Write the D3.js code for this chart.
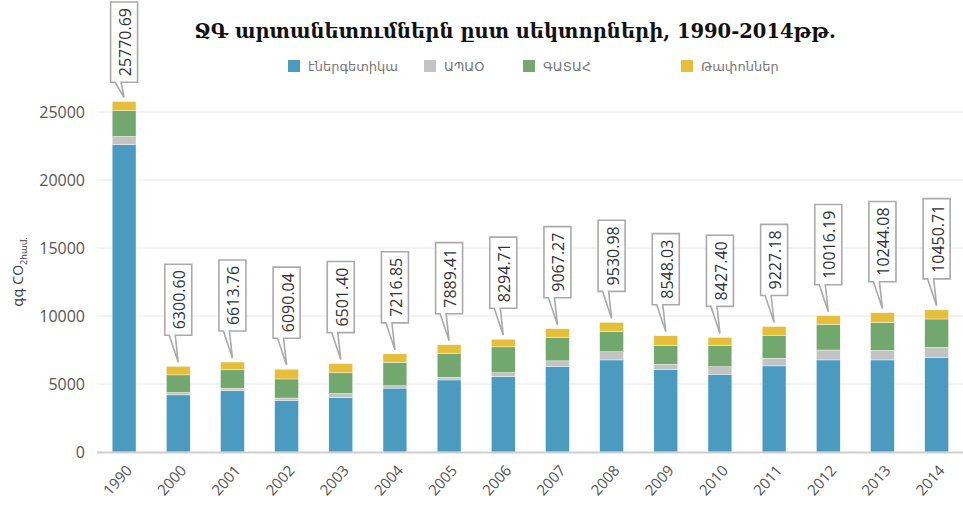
<!DOCTYPE html>
<html>
<head>
<meta charset="utf-8">
<script src="https://cdn.jsdelivr.net/npm/d3@7"></script>
<style>
  body { margin: 0; background: #fff; }
  svg { display: block; }
</style>
</head>
<body>
<div id="chart"></div>
<script>
// data
const years = ["1990", "2000", "2001", "2002", "2003", "2004", "2005", "2006",
  "2007", "2008", "2009", "2010", "2011", "2012", "2013", "2014"]
const totals = [25770.69, 6300.60, 6613.76, 6090.04, 6501.40, 7216.85, 7889.41, 8294.71,
  9067.27, 9530.98, 8548.03, 8427.40, 9227.18, 10016.19, 10244.08, 10450.71]
const energy = [22600, 4200, 4520, 3800, 4000, 4700, 5300, 5550, 6300, 6770, 6050, 5720, 6330, 6770, 6770, 6950]
const ippu = [600, 170, 170, 170, 300, 170, 200, 280, 400, 600, 400, 550, 560, 730, 700, 750]
const afolu = [1900, 1300, 1350, 1400, 1520, 1720, 1720, 1900, 1700, 1480, 1380, 1550, 1700, 1880, 2050, 2080]
const seriesNames = ["էներգետիկա", "ԱՊԱՕ", "ԳԱՏԱՀ", "Թափոններ"]
const yTicks = [0, 5000, 10000, 15000, 20000, 25000]
const titleText = "ՋԳ արտանետումներն ըստ սեկտորների, 1990-2014թթ."

// waste is whatever is left of the total
const waste = totals.map((t, i) => t - energy[i] - ippu[i] - afolu[i])

const colors = ["#4b9bc0", "#c3c3c3", "#72a76d", "#e6bf3a"]

const svgWidth = 963
const svgHeight = 511
const margin = { left: 97, right: 0, top: 112, bottom: 59 }
const plotBottom = svgHeight - margin.bottom

const svg = d3.select("#chart")
  .append("svg")
  .attr("width", svgWidth)
  .attr("height", svgHeight)

const rows = years.map((y, i) => ({
  year: y, total: totals[i],
  s0: energy[i], s1: ippu[i], s2: afolu[i], s3: waste[i]
}))
const stacked = d3.stack().keys(["s0", "s1", "s2", "s3"])(rows)

// scales
const x = d3.scaleBand()
  .domain(years)
  .range([margin.left, margin.left + 866.7])
  .paddingInner(0.56)
  .paddingOuter(0.28)

const y = d3.scaleLinear()
  .domain([0, 25000])
  .range([plotBottom, margin.top])

// gridlines
svg.append("g")
  .selectAll("line")
  .data(yTicks.filter(d => d > 0))
  .join("line")
  .attr("x1", margin.left)
  .attr("x2", svgWidth)
  .attr("y1", d => y(d))
  .attr("y2", d => y(d))
  .attr("stroke", "#e8e8e8")
  .attr("stroke-width", 1)

// y axis labels
const yAxis = svg.append("g")
  .attr("transform", `translate(${margin.left - 12},0)`)
  .call(d3.axisLeft(y).tickValues(yTicks).tickFormat(d3.format("d")).tickSize(0).tickPadding(0))
yAxis.select(".domain").remove()
yAxis.selectAll("text")
  .attr("fill", "#555")
  .style("font-family", "'Open Sans', sans-serif")
  .style("font-size", "16px")

// bars
svg.append("g")
  .selectAll("g")
  .data(stacked)
  .join("g")
  .attr("fill", (d, i) => colors[i])
  .selectAll("rect")
  .data(d => d)
  .join("rect")
  .attr("x", d => x(d.data.year))
  .attr("width", x.bandwidth())
  .attr("y", d => y(d[1]))
  .attr("height", d => y(d[0]) - y(d[1]))
  .attr("stroke", "#fff")
  .attr("stroke-width", 0.4)

// baseline
svg.append("line")
  .attr("x1", margin.left)
  .attr("x2", svgWidth)
  .attr("y1", plotBottom + 0.5)
  .attr("y2", plotBottom + 0.5)
  .attr("stroke", "#cfcfcf")
  .attr("stroke-width", 2)

// x axis labels
svg.append("g")
  .selectAll("text")
  .data(years)
  .join("text")
  .attr("transform", d => `translate(${x(d) + x.bandwidth() / 2 + 9},${plotBottom + 19}) rotate(-48)`)
  .attr("text-anchor", "end")
  .attr("fill", "#555")
  .style("font-family", "'Open Sans', sans-serif")
  .style("font-size", "15px")
  .text(d => d)

// callouts with totals
const callout = svg.append("g")
  .selectAll("g")
  .data(rows)
  .join("g")
  .attr("transform", d => `translate(${x(d.year) + x.bandwidth() / 2},${y(d.total)})`)

callout.each(function (d) {
  const g = d3.select(this)
  const bw = 27
  const barTop = y(d.total)
  const t = g.append("text")
    .attr("text-anchor", "middle")
    .attr("dominant-baseline", "central")
    .attr("fill", "#333")
    .style("font-family", "'Open Sans', sans-serif")
    .style("font-size", "16px")
    .text(d.total.toFixed(2))
  const len = t.node().getComputedTextLength()
  const bh = len + 12
  // keep the box inside the picture, shorten the pointer if needed
  let bottom = -31
  if (barTop + bottom - bh < 2) bottom = 2 - barTop + bh
  const tip = -4
  g.insert("path", "text")
    .attr("d", `M${-bw / 2},${bottom - bh} H${bw / 2} V${bottom} H-3 L0,${tip} L-9,${bottom} H${-bw / 2} Z`)
    .attr("fill", "#fff")
    .attr("stroke", "#aaa")
    .attr("stroke-width", 1.6)
    .attr("stroke-linejoin", "miter")
  t.attr("transform", `translate(1,${bottom - bh / 2}) rotate(-90)`)
})

// title
svg.append("text")
  .attr("x", 515)
  .attr("y", 38)
  .attr("text-anchor", "middle")
  .attr("fill", "#111")
  .style("font-family", "'DejaVu Serif', serif")
  .style("font-weight", "bold")
  .style("font-size", "19.5px")
  .text(titleText)

// legend
const legendX = [288, 424, 523, 681]
const legend = svg.append("g")
  .selectAll("g")
  .data(seriesNames)
  .join("g")
  .attr("transform", (d, i) => `translate(${legendX[i]},66)`)
legend.append("rect")
  .attr("x", 0)
  .attr("y", -6)
  .attr("width", 12)
  .attr("height", 12)
  .attr("fill", (d, i) => colors[i])
legend.append("text")
  .attr("x", 20)
  .attr("dominant-baseline", "central")
  .attr("fill", "#777")
  .style("font-family", "'DejaVu Sans', sans-serif")
  .style("font-size", "13px")
  .text(d => d)

// y axis title
const yTitle = svg.append("text")
  .attr("transform", "translate(23,272) rotate(-90)")
  .attr("text-anchor", "middle")
  .attr("fill", "#444")
  .style("font-family", "'Open Sans', 'DejaVu Sans', sans-serif")
  .style("font-size", "14px")
yTitle.append("tspan").text("գգ CO")
yTitle.append("tspan")
  .attr("dy", 4)
  .style("font-size", "9px")
  .text("2համ.")
</script>
</body>
</html>
